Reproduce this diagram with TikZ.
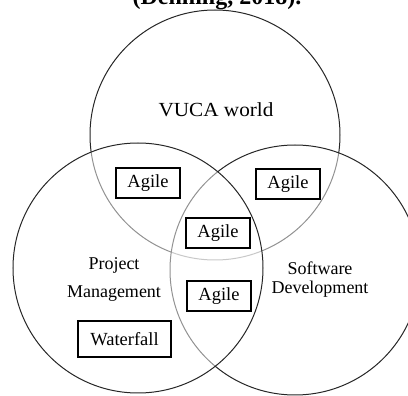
\documentclass[tikz,border=0pt]{standalone}
\usepackage{fontspec}
\setmainfont{Liberation Serif}
\newfontfamily\widefont[FakeStretch=1.06]{Liberation Serif}
\tikzset{
    venn/.style={circle,draw=black!85,line width=1pt,fill=white,fill opacity=0.5,minimum size=250pt,inner sep=0},
    tag/.style={rectangle,draw=black,line width=1.1pt,minimum width=64pt,minimum height=30pt,inner sep=0,font=\fontsize{18.5}{20}\selectfont},
    area/.style={align=center,inner sep=0}
}

\begin{document}
\begin{tikzpicture}[x=1pt,y=-1pt]
    \clip (0,0) rectangle (408,396);
    % caption line, cut by the top edge
    \node[anchor=base,font=\bfseries\fontsize{24}{26}\selectfont] (cite) at (217,5) {(Denning, 2018).};
    % the three sets; each later one washes out the outlines below it
    \node[venn] (vuca) at (215,135) {};
    \node[venn] (sd) at (295,270) {};
    \node[venn] (pm) at (138,268) {};
    % set names
    \node[anchor=base,font=\widefont\fontsize{20}{22}\selectfont] (vucaname) at (216,117) {VUCA world};
    \node[area,font=\fontsize{18}{28}\selectfont] (pmname) at (114,279) {Project\\Management};
    \node[area,font=\fontsize{18}{19}\selectfont] (sdname) at (320,279.5) {Software\\Development};
    % methods
    \node[tag] (agile1) at (148,183) {Agile};
    \node[tag] (agile2) at (288,184) {Agile};
    \node[tag] (agile3) at (218,233) {Agile};
    \node[tag] (agile4) at (219,296) {Agile};
    \node[tag,minimum width=93pt,minimum height=36pt] (waterfall) at (124.5,339) {Waterfall};
\end{tikzpicture}
\end{document}
